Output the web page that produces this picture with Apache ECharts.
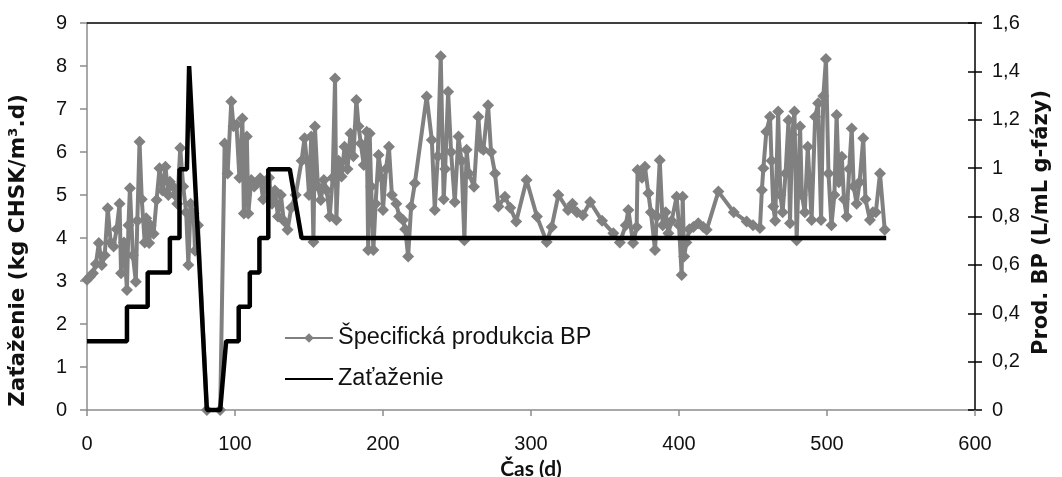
<!DOCTYPE html>
<html>
<head>
<meta charset="utf-8">
<script src="https://cdn.jsdelivr.net/npm/echarts@6/dist/echarts.min.js"></script>
<style>
html,body{margin:0;padding:0;background:#fff;}
#chart{width:1062px;height:477px;}
</style>
</head>
<body>
<div id="chart"></div>
<script>
// Time axis ticks
var xTicks = [0, 100, 200, 300, 400, 500, 600];

// Series 1: Špecifická produkcia BP (right axis, L/mL g-fázy)
var prodDays = [
  0,2,4,6,8,10,12,14,16,18,
  20,22,23,25,27,28,29,31,33,34,
  35.5,37,39,40,42,43,45,47,49,51,
  53,55,56,58,59.5,61,63,65,67,68.5,
  70,72,73,75,81,90,93,95,97.5,99,
  101,103,105,106,108,109,111,113,115,117,
  119,121,123,125,127,129,131,133,135.5,138,
  141,145,147,148.5,150,151.5,153,154,156,158,
  160,162,164,166,167.6,168.5,170,172,174,176,
  178,180,182,183.5,185,187,189,190,191,192,
  193.5,195,197,199,200,202,204,206,209,211,
  213.5,215,217,219,221.5,229.5,233,235,237,239,
  241,242,244,246,248.5,251,253,255,256.5,258,
  261.5,264.4,266,267.8,271,273,275.7,278,282.4,286,
  290,297,304,310.6,314,318.5,325,328,331,335,
  340,348,355.6,360,364,365.8,369,371.4,372,375,
  377,379.3,381,383.8,385,387,389,391,392.8,395,
  398.4,400,401.8,402.5,403.5,405,407,409.7,413,416.4,
  418.7,426.6,437,445.7,450,454.7,456,457,459,461.5,
  462.5,463.7,465,467,468.5,470,472,474,475,476.5,
  478,479.5,481.8,483,485,487,489.6,492,494,496,
  497.5,499.3,501,503,505,506.5,508,510,511.5,513.3,
  515,516.7,518,520,522,524.5,526,529,531,533,
  535.8,539
];
var prodValues = [
  0.539,0.551,0.565,0.604,0.690,0.599,0.640,0.834,0.693,0.676,
  0.747,0.853,0.565,0.693,0.496,0.764,0.917,0.640,0.530,0.782,
  1.109,0.871,0.693,0.793,0.690,0.764,0.729,0.868,0.999,0.907,
  1.006,0.889,0.944,0.924,0.889,0.853,1.083,0.924,0.818,0.599,
  0.853,0.812,0.658,0.764,0,0,1.102,0.978,1.275,1.173,
  1.179,0.960,1.205,0.812,1.131,0.812,0.951,0.924,0.942,0.958,
  0.871,0.942,0.960,0.853,0.907,0.800,0.889,0.782,0.745,0.836,
  0.889,1.031,1.124,1.033,0.889,1.131,0.695,1.172,0.924,0.868,
  0.951,0.907,0.800,0.960,1.371,0.786,1.031,0.965,1.088,0.996,
  1.143,1.049,1.282,1.173,1.102,1.013,1.150,0.661,1.143,0.924,
  0.661,0.853,1.054,0.960,0.827,0.996,1.088,0.889,0.853,0.800,
  0.786,0.747,0.635,0.841,0.937,1.296,1.116,0.827,1.049,1.463,
  0.871,0.996,1.316,1.067,0.860,1.131,1.031,0.702,1.076,0.978,
  0.923,1.212,1.084,1.076,1.260,1.067,0.978,0.841,0.882,0.836,
  0.779,0.951,0.800,0.695,0.757,0.889,0.827,0.853,0.818,0.805,
  0.860,0.782,0.731,0.692,0.764,0.827,0.690,0.757,0.992,0.960,
  1.006,0.896,0.818,0.661,0.800,1.033,0.764,0.818,0.731,0.782,
  0.882,0.764,0.558,0.882,0.635,0.693,0.747,0.757,0.772,0.757,
  0.745,0.903,0.818,0.779,0.764,0.752,0.910,0.999,1.150,1.212,
  1.031,0.841,0.782,1.234,0.889,0.818,0.978,1.198,0.772,1.138,
  1.234,0.702,1.172,0.889,0.818,1.088,0.786,1.212,1.268,0.786,
  1.298,1.451,0.978,0.764,0.889,1.220,0.942,1.047,0.871,0.800,
  0.996,1.164,0.924,0.853,0.942,1.124,0.871,0.786,0.818,0.818,
  0.978,0.745
];

// Series 2: Zaťaženie (left axis, kg CHSK/m3.d)
var loadDays   = [0, 27, 27, 41, 41, 56, 56, 62.5, 62.5, 67.5, 69, 81, 90, 94, 102.5, 102.5, 110, 110, 116.5, 116.5, 122.5, 122.5, 137, 145, 540];
var loadValues = [1.6, 1.6, 2.4, 2.4, 3.2, 3.2, 4.0, 4.0, 5.6, 5.6, 8.0, 0, 0, 1.6, 1.6, 2.4, 2.4, 3.2, 3.2, 4.0, 4.0, 5.6, 5.6, 4.0, 4.0];

var seriesNames = ['Špecifická produkcia BP', 'Zaťaženie'];
var axisNames = { x: 'Čas (d)', yLeft: 'Zaťaženie (kg CHSK/m³.d)', yRight: 'Prod. BP (L/mL g-fázy)' };

function zip(a, b) { var r = []; for (var i = 0; i < a.length; i++) r.push([a[i], b[i]]); return r; }

var labelFont = 'Liberation Sans, Arial, sans-serif';
var titleFont = 'DejaVu Sans, sans-serif';
var gray = '#808080';
var axisGray = '#8c8c8c';

var chart = echarts.init(document.getElementById('chart'), null, { renderer: 'canvas' });
chart.setOption({
  animation: false,
  backgroundColor: '#fff',
  grid: { left: 87, right: 87, top: 23, bottom: 67, containLabel: false, outerBoundsMode: 'none' },
  legend: {
    orient: 'vertical',
    left: 279,
    top: 321,
    itemWidth: 48,
    itemHeight: 12,
    itemGap: 17,
    textStyle: { fontSize: 23.5, color: '#111', fontFamily: labelFont },
    data: [
      { name: seriesNames[0] },
      { name: seriesNames[1], itemStyle: { color: 'rgba(0,0,0,0)', opacity: 0, borderWidth: 0 } }
    ]
  },
  xAxis: [
    {
      type: 'value', min: xTicks[0], max: xTicks[xTicks.length - 1], interval: 100,
      position: 'bottom',
      axisLine: { show: true, onZero: false, lineStyle: { color: axisGray, width: 1.5 } },
      axisTick: { show: true, length: 6, lineStyle: { color: axisGray, width: 1.5 } },
      splitLine: { show: false },
      axisLabel: { margin: 24, fontSize: 20, color: '#111', fontFamily: labelFont },
      name: axisNames.x, nameLocation: 'middle', nameGap: 46,
      nameTextStyle: { fontWeight: 'bold', fontSize: 21, color: '#111', fontFamily: 'Lato, sans-serif' }
    },
    {
      type: 'value', min: xTicks[0], max: xTicks[xTicks.length - 1],
      position: 'top',
      axisLine: { show: true, onZero: false, lineStyle: { color: '#000', width: 1.5 } },
      axisTick: { show: false }, axisLabel: { show: false }, splitLine: { show: false }
    }
  ],
  yAxis: [
    {
      type: 'value', min: 0, max: 9, interval: 1, position: 'left',
      axisLine: { show: true, onZero: false, lineStyle: { color: axisGray, width: 1.5 } },
      axisTick: { show: true, length: 7, lineStyle: { color: axisGray, width: 1.5 } },
      splitLine: { show: false },
      axisLabel: { margin: 20, fontSize: 20, color: '#111', fontFamily: labelFont },
      name: axisNames.yLeft, nameLocation: 'middle', nameRotate: 90, nameGap: 58,
      nameTextStyle: { fontWeight: 'bold', fontSize: 21.5, color: '#111', fontFamily: titleFont, padding: [0, 68, 0, 0] }
    },
    {
      type: 'value', min: 0, max: 1.6, interval: 0.2, position: 'right',
      axisLine: { show: true, onZero: false, lineStyle: { color: '#000', width: 1.5 } },
      axisTick: { show: true, length: 7, lineStyle: { color: '#000', width: 1.5 } },
      splitLine: { show: false },
      axisLabel: {
        margin: 17, fontSize: 20, color: '#111', fontFamily: labelFont,
        formatter: function (v) {
          var r = Math.round(v * 10) / 10;
          return (r % 1 === 0 ? String(r) : r.toFixed(1)).replace('.', ',');
        }
      },
      name: axisNames.yRight, nameLocation: 'middle', nameRotate: 90, nameGap: 56,
      nameTextStyle: { fontWeight: 'bold', fontSize: 21, color: '#111', fontFamily: titleFont, padding: [0, 12, 0, 0] }
    },
    {
      type: 'value', min: 0, max: 1.6, interval: 0.2, position: 'right',
      axisLine: { show: false, onZero: false },
      axisTick: { show: true, inside: true, length: 7, lineStyle: { color: '#000', width: 1.5 } },
      axisLabel: { show: false }, splitLine: { show: false }
    }
  ],
  series: [
    {
      name: seriesNames[0], type: 'line', xAxisIndex: 0, yAxisIndex: 1,
      data: zip(prodDays, prodValues),
      symbol: 'diamond', symbolSize: 12, showSymbol: true,
      lineStyle: { color: gray, width: 4 },
      itemStyle: { color: gray },
      clip: false, z: 2
    },
    {
      name: seriesNames[1], type: 'line', xAxisIndex: 0, yAxisIndex: 0,
      data: zip(loadDays, loadValues),
      symbol: 'none',
      lineStyle: { color: '#000', width: 4.5 },
      itemStyle: { color: '#000' },
      clip: false, z: 3
    }
  ]
});
</script>
</body>
</html>
